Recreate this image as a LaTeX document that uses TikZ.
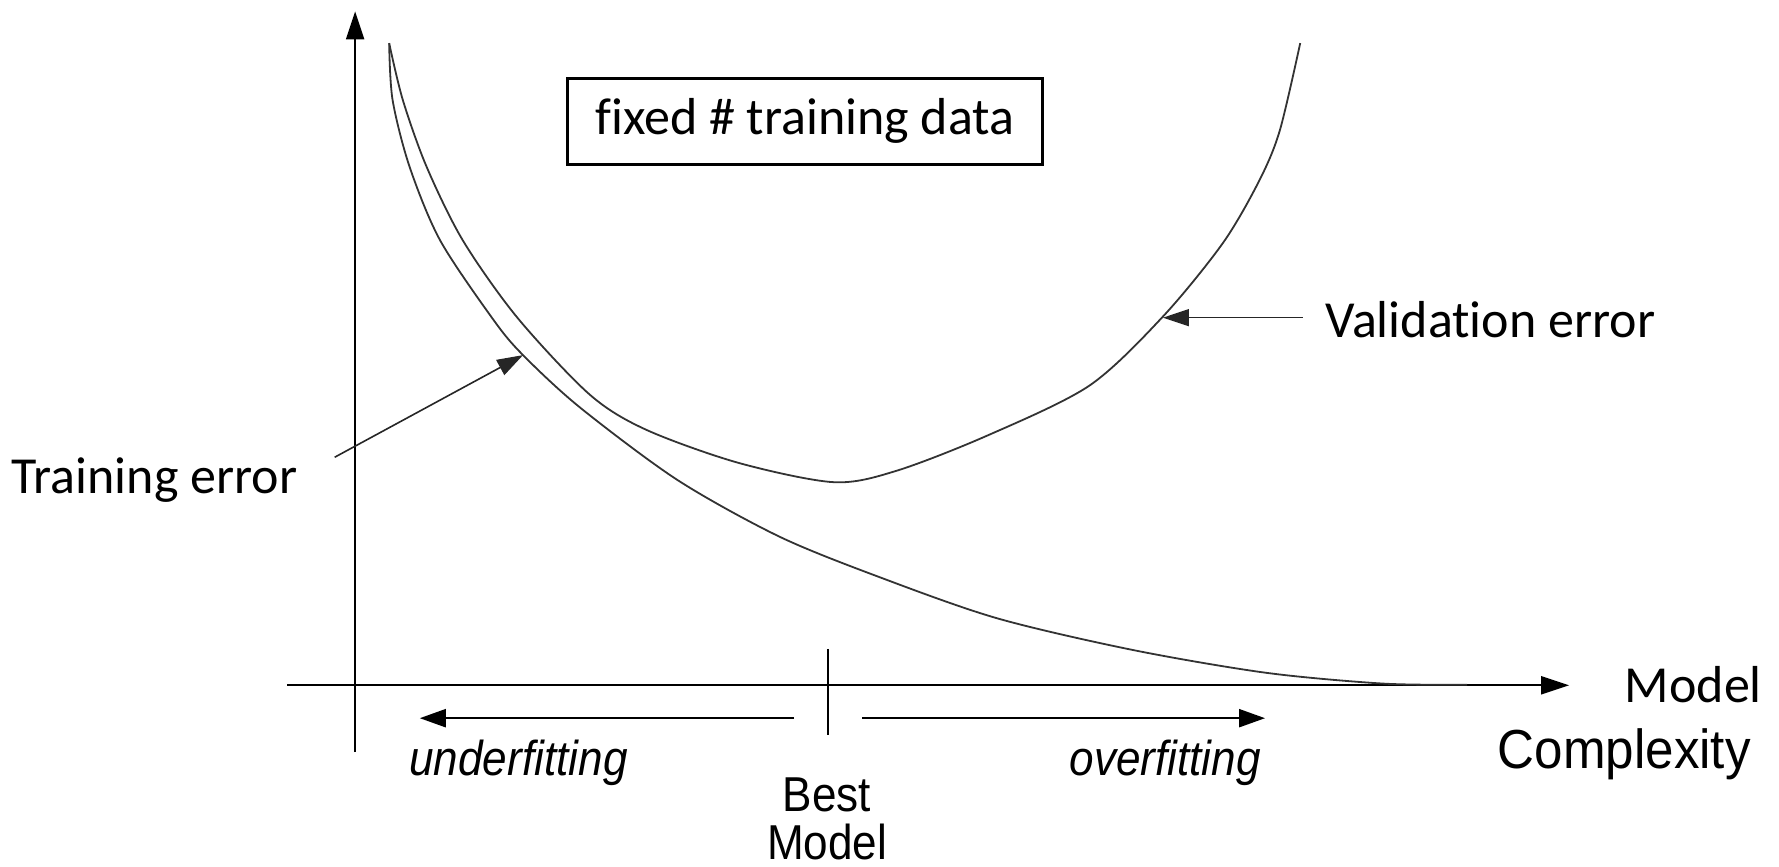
\documentclass[tikz,border=0pt]{standalone}
\usepackage{fontspec}
\usepackage{graphicx}
\setmainfont{Carlito}[Ligatures={NoCommon}]
\newfontfamily\arialf{Liberation Sans}
\usetikzlibrary{arrows.meta}
\tikzset{
  axisline/.style={line width=2.2pt, -{Triangle[length=28pt,width=18pt]}},
  curveline/.style={line width=1.8pt, draw=black!80},
  ptr/.style={line width=1.6pt, draw=black!85, -{Triangle[length=26pt,width=17pt]}},
  bigtxt/.style={font=\fontsize{52}{60}\selectfont, inner sep=0pt},
  smtxt/.style={font=\arialf\fontsize{49}{56}\selectfont, inner sep=0pt},
  fitarrow/.style={line width=2.2pt, -{Triangle[length=26pt,width=18pt]}},
}
\begin{document}
\begin{tikzpicture}[x=1.1346pt,y=-1.1346pt]
\useasboundingbox (0,0) rectangle (1568,764);
% axes
\coordinate (yb) at (313,663);
\coordinate (yt) at (313,10);
\coordinate (xl) at (253,604);
\coordinate (xr) at (1383,604);
\draw[axisline] (yb) -- (yt);
\draw[axisline] (xl) -- (xr);
% training error curve
\draw[curveline] plot[smooth, tension=0.5] coordinates {(343,38) (346,88) (361,147) (388,212) (435,282) (461,313) (511,359) (597,423) (687,473) (776,509) (879,545) (999,573) (1116,593) (1219,602.5) (1293,603.5)};
% validation error curve
\draw[curveline] plot[smooth, tension=0.5] coordinates {(343,38) (355,88) (376,147) (408,212) (456,280) (520,348) (570,379) (651,408) (735,425) (790,415) (870,384) (960,340) (1025,279) (1078,214) (1110,159) (1128,115) (1146,38)};
% box
\node[bigtxt, draw, line width=3.5pt, inner xsep=17pt, inner ysep=12pt, minimum width=475pt, minimum height=86pt] (box) at (709.5,107) {fixed \# training data};
% training error label
\node[bigtxt, anchor=west] (trl) at (10,423) {Training error};
\coordinate (trs) at (295,403);
\coordinate (trt) at (461,313);
\draw[ptr] (trs) -- (trt);
% validation error label
\node[bigtxt, anchor=west] (val) at (1168,282) {Validation error};
\coordinate (vas) at (1148,280);
\coordinate (vat) at (1025,280);
\draw[ptr] (vas) -- (vat);
% x-axis label
\node[bigtxt, anchor=west] (mdl) at (1432,603) {Model};
\node[smtxt, anchor=west] (cpx) at (1320,665) {\scalebox{0.93}[1]{\fontsize{55}{60}\selectfont Complexity}};
% best model tick
\coordinate (bt) at (730,572);
\coordinate (bb) at (730,648);
\draw[line width=2pt] (bt) -- (bb);
\coordinate (us) at (700,633);
\coordinate (ue) at (370,633);
\coordinate (os) at (760,633);
\coordinate (oe) at (1115,633);
\draw[fitarrow] (us) -- (ue);
\draw[fitarrow] (os) -- (oe);
\node[smtxt] (uf) at (457,672) {\scalebox{0.9}[1]{\itshape underfitting}};
\node[smtxt] (of) at (1027,672) {\scalebox{0.9}[1]{\itshape overfitting}};
\node[smtxt] (best) at (729,701) {\scalebox{0.9}[1]{Best}};
\node[smtxt] (bm) at (729,742) {\scalebox{0.9}[1]{Model}};
\end{tikzpicture}
\end{document}
